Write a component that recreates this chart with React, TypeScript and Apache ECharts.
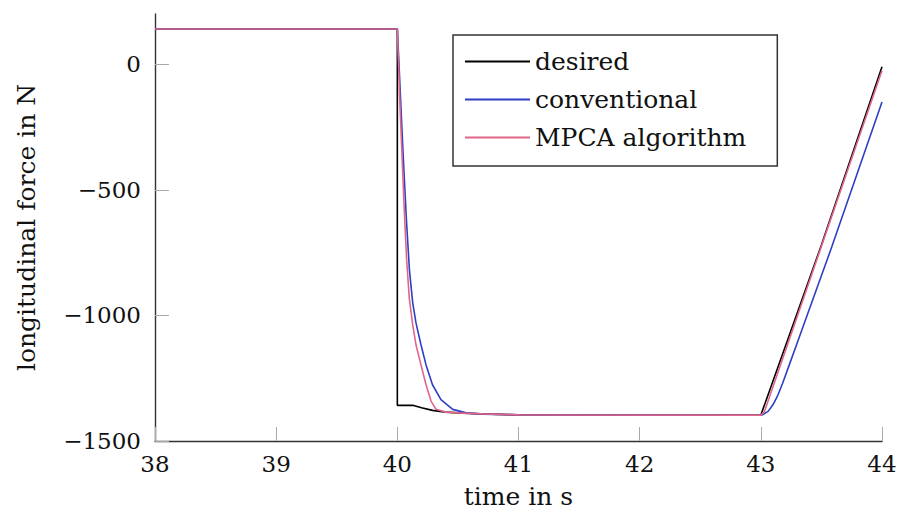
import React, { useEffect, useRef } from "react";
import * as echarts from "echarts";

// time in s / longitudinal force in N
const desiredT = [38, 40, 40, 40.127, 40.2, 40.29, 40.4, 40.54, 40.69, 41, 43, 43.5, 44];
const desiredF = [140, 140, -1358, -1358, -1368, -1378, -1385, -1389, -1392, -1396, -1397, -720, -10];

const conventionalT = [38, 40, 40.012, 40.027, 40.05, 40.075, 40.1, 40.127, 40.154, 40.195, 40.237, 40.29, 40.36, 40.457, 40.567, 40.7, 41, 43, 43.02, 43.06, 43.1, 43.14, 43.18, 43.24, 43.3, 43.49, 43.585, 44];
const conventionalF = [140, 140, 20, -142, -380, -620, -820, -950, -1030, -1117, -1197, -1276, -1335, -1374, -1388, -1393, -1396, -1397, -1394, -1382, -1356, -1318, -1270, -1190, -1110, -855, -728, -150];

const mpcaT = [38, 40, 40.01, 40.02, 40.04, 40.06, 40.077, 40.099, 40.127, 40.154, 40.195, 40.237, 40.278, 40.32, 40.4, 40.54, 40.7, 41, 43, 43.03, 44];
const mpcaF = [140, 140, 0, -142, -380, -610, -780, -933, -1038, -1117, -1197, -1276, -1341, -1374, -1385, -1389, -1392, -1396, -1397, -1383, -25];

const xTicks = [38, 39, 40, 41, 42, 43, 44];
const yTicks = [0, -500, -1000, -1500];

const seriesNames = ["desired", "conventional", "MPCA algorithm"];
const seriesColors = ["#000000", "#2f3fc4", "#e0668a"];

const zip = (t: number[], f: number[]) => t.map((x, i) => [x, f[i]]);

const FONT = "DejaVu Serif";

export default function App() {
  const ref = useRef<HTMLDivElement>(null);
  useEffect(() => {
    if (!ref.current) return;
    const chart = echarts.init(ref.current, undefined, { renderer: "svg" });
    const fmt = (v: number) => (v < 0 ? "\u2212" + Math.abs(v) : String(v));
    const data = [zip(desiredT, desiredF), zip(conventionalT, conventionalF), zip(mpcaT, mpcaF)];
    chart.setOption({
      animation: false,
      backgroundColor: "#ffffff",
      grid: { left: 155, right: 20, top: 14, bottom: 71 },
      legend: {
        orient: "vertical",
        left: 453,
        top: 35,
        padding: [14, 31, 16, 12],
        itemGap: 13,
        itemWidth: 65,
        itemHeight: 2,
        icon: "rect",
        borderColor: "#333",
        borderWidth: 1.5,
        borderRadius: 0,
        backgroundColor: "#fff",
        textStyle: { fontFamily: FONT, fontSize: 25, color: "#111" },
        data: seriesNames,
      },
      xAxis: {
        type: "value",
        min: 38,
        max: 44,
        interval: 1,
        name: "time in s",
        nameLocation: "middle",
        nameGap: 43,
        nameTextStyle: { fontFamily: FONT, fontSize: 25, color: "#111" },
        axisLine: { show: true, onZero: false, lineStyle: { color: "#333", width: 1.4 } },
        axisTick: { show: true, inside: true, length: 14, lineStyle: { color: "#aaa", width: 1 }, customValues: xTicks },
        axisLabel: { fontFamily: FONT, fontSize: 23, color: "#111", margin: 11, customValues: xTicks },
        splitLine: { show: false },
      },
      yAxis: {
        type: "value",
        min: -1500,
        max: 200,
        name: "longitudinal force in N",
        nameLocation: "middle",
        nameGap: 116,
        nameRotate: 90,
        nameTextStyle: { fontFamily: FONT, fontSize: 25, color: "#111" },
        axisLine: { show: true, onZero: false, lineStyle: { color: "#333", width: 1.4 } },
        axisTick: { show: true, inside: true, length: 14, lineStyle: { color: "#aaa", width: 1 }, customValues: yTicks },
        axisLabel: { fontFamily: FONT, fontSize: 23, color: "#111", margin: 14, formatter: fmt, customValues: yTicks },
        splitLine: { show: false },
      },
      series: seriesNames.map((name, i) => ({
        name,
        type: "line",
        data: data[i],
        symbol: "none",
        color: seriesColors[i],
        lineStyle: { color: seriesColors[i], width: 1.6 },
        z: 2 + i,
      })),
    });
    return () => chart.dispose();
  }, []);
  return (
    <div
      ref={ref}
      style={{ position: "fixed", left: 0, top: 0, width: 902, height: 514 }}
    />
  );
}
